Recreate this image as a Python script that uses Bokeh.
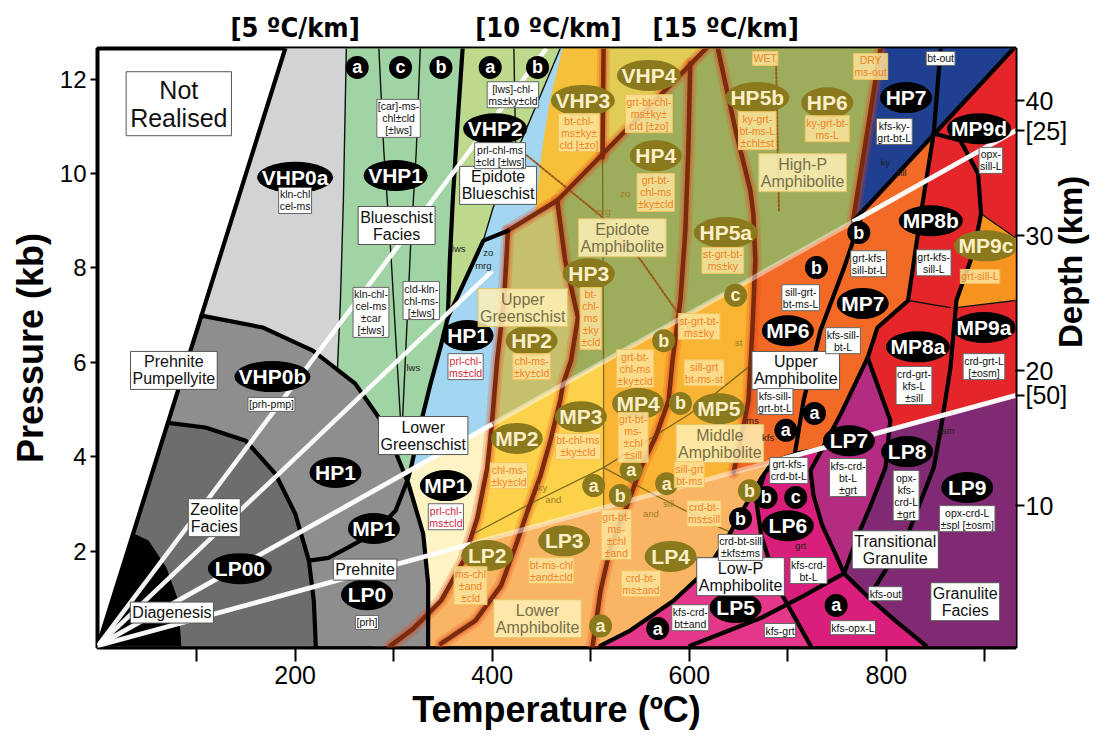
from bokeh.plotting import figure
from bokeh.models import Range1d, LinearAxis, FixedTicker, ColumnDataSource
from bokeh.embed import file_html
from bokeh.resources import INLINE
from bokeh.core.properties import value
import math

FONT = "Liberation Sans"
NARROW = "'Liberation Sans Narrow', 'DejaVu Sans Condensed', 'Liberation Sans', sans-serif"

# ---------------- axes ----------------
T_RANGE = (-0.5, 931)
P_RANGE = (-0.04, 12.65)
DEPTH_RANGE = (-0.49, 43.88)
T_TICKS = [100, 200, 300, 400, 500, 600, 700, 800, 900]
T_LABELED = [200, 400, 600, 800]
P_TICKS = [2, 4, 6, 8, 10, 12]
DEPTH_TICKS = [10, 20, 30, 40]
GEOTHERM_MARK_D = [37.8, 18.18]          # depth (km) where the 25 and 50 ºC/km lines meet the right border
GEOTHERM_MARKS = ["[25]", "[50]"]
GEO_LABEL_T = [200, 457, 637]
GEO_LABELS = ["[5 ºC/km]", "[10 ºC/km]", "[15 ºC/km]"]

# ---------------- region polygons (T in ºC, P in kb) ----------------
LIGHT_GRAY_T = [190, 252, 249, 246, 242, 292, 0]
LIGHT_GRAY_P = [12.65, 12.65, 9.43, 7.31, 5.51, 4.56, 0]
MINT_T = [252, 370, 365, 360, 357, 355, 348, 337, 329, 317, 300, 240, 246, 249]
MINT_P = [12.65, 12.65, 11.12, 9.43, 8.16, 6.95, 6.36, 5.51, 4.83, 3.71, 3.0, 5.0, 7.31, 9.43]
VHP2_T = [370, 469, 401, 391, 355, 357, 360, 365]
VHP2_P = [12.65, 12.65, 9.28, 8.58, 6.95, 8.16, 9.43, 11.12]
BLUE_T = [469, 472, 459, 451, 444, 416, 412, 405, 400, 317, 329, 337, 348, 355, 391, 401]
BLUE_P = [12.65, 12.65, 11.55, 10.49, 9.15, 8.79, 7.31, 6.04, 4.70, 3.71, 4.83, 5.51, 6.36, 6.95, 8.58, 9.28]
CREAM_T = [317, 400, 395, 385, 371, 348, 320, 290, 280, 300]
CREAM_P = [3.71, 4.70, 3.77, 2.71, 1.80, 0.95, 0.36, 0, 0, 3.0]
VHP3_T = [472, 513, 512, 466, 444, 451, 459]
VHP3_P = [12.65, 12.65, 10.34, 9.43, 9.15, 10.49, 11.55]
VHP4_T = [513, 617, 512]
VHP4_P = [12.65, 12.65, 10.34]
HP_T = [416, 466, 617, 794, 766, 400, 405, 412]
HP_P = [8.79, 9.43, 12.65, 12.65, 8.98, 4.70, 6.04, 7.31]
HP2_T = [416, 466, 474, 487, 480, 472, 400, 405, 412]
HP2_P = [8.79, 9.43, 8.16, 6.95, 6.04, 5.53, 4.69, 6.04, 7.31]
MP_YL_T = [400, 513, 513, 378, 385, 395]
MP_YL_P = [4.69, 6.01, 2.92, 2.15, 2.71, 3.77]
MP_GOLD_T = [513, 664, 664, 660, 652, 645, 513]
MP_GOLD_P = [6.01, 7.78, 6.67, 5.19, 4.34, 3.67, 2.92]
LP_OR_T = [378, 685, 673, 657, 637, 617, 584, 540, 510, 297, 320, 348, 371]
LP_OR_P = [2.15, 3.90, 3.54, 2.97, 2.22, 1.59, 0.95, 0.32, 0, 0, 0.36, 0.95, 1.80]
PINK_T = [685, 931, 931, 510, 540, 584, 617, 637, 657, 673]
PINK_P = [3.90, 5.30, 0, 0, 0.32, 0.95, 1.59, 2.22, 2.97, 3.54]
LP5_T = [676, 668, 673, 690, 723, 510, 540, 584, 617, 637, 657, 673]
LP5_P = [3.63, 3.07, 2.33, 1.23, 0, 0, 0.32, 0.95, 1.59, 2.22, 2.97, 3.54]
RED_TOP_T = [929, 931, 931, 766]
RED_TOP_P = [12.65, 12.65, 10.91, 8.98]
RED_LOW_T = [766, 931, 931, 735]
RED_LOW_P = [8.98, 10.91, 5.30, 4.18]
ORANGE_T = [664, 766, 848, 835, 828, 822, 791, 781, 754, 735, 645, 652, 660, 664]
ORANGE_P = [7.78, 8.98, 10.85, 9.15, 8.16, 7.31, 6.74, 6.10, 4.92, 4.17, 3.67, 4.34, 5.19, 6.67]
MP9C_T = [896, 931, 931, 871, 889]
MP9C_P = [9.15, 8.64, 7.31, 7.16, 8.37]
HP7_T = [794, 929, 766]
HP7_P = [12.65, 12.65, 8.98]
LP7_T = [781, 804, 799, 784, 771, 757, 749, 735, 726, 723, 735, 754]
LP7_P = [6.10, 4.77, 3.77, 2.97, 2.33, 1.53, 1.91, 2.54, 3.18, 3.71, 4.17, 4.92]
PURPLE_T = [804, 931, 931, 840, 809, 782, 757, 771, 784, 799]
PURPLE_P = [4.58, 5.30, 0, 0, 0.53, 1.02, 1.53, 2.33, 2.97, 3.77]
MID_GRAY_T = [0, 105, 167, 218, 261, 292, 315, 330, 335, 335]
MID_GRAY_P = [0, 6.99, 6.74, 6.25, 5.55, 4.62, 3.43, 2.37, 1.31, 0]
DARK_GRAY_T = [0, 71, 109, 150, 180, 200, 214, 219, 221]
DARK_GRAY_P = [0, 4.72, 4.62, 4.34, 3.64, 2.80, 1.80, 0.95, 0]
BLACK_T = [0, 35.6, 51, 69, 81, 84]
BLACK_P = [0, 2.37, 2.22, 1.65, 0.95, 0]

# ---------------- boundary lines ----------------
LINE_A_T, LINE_A_P = [0, 190], [0, 12.65]
ARC_MID_T = [105, 167, 218, 261, 292, 315, 330, 335, 335]
ARC_MID_P = [6.99, 6.74, 6.25, 5.55, 4.62, 3.43, 2.37, 1.31, 0]
ARC_DARK_T = [71, 109, 150, 180, 200, 214, 219, 221]
ARC_DARK_P = [4.72, 4.62, 4.34, 3.64, 2.80, 1.80, 0.95, 0]
V1_T, V1_P = [252, 249, 246, 243], [12.65, 9.43, 7.31, 5.85]
SEP1_T, SEP1_P = [285, 290, 297, 307], [12.65, 10.49, 8.37, 4.77]
SEP2_T, SEP2_P = [327, 323, 317, 309], [12.65, 10.49, 8.37, 4.77]
B1_T = [370, 365, 360, 357, 355, 348, 337, 329, 317, 314, 302, 279, 254, 234, 214]
B1_P = [12.65, 11.12, 9.43, 8.16, 6.95, 6.36, 5.51, 4.83, 3.71, 3.50, 2.86, 2.37, 2.08, 1.86, 1.80]
VHP_HP_BLACK_T, VHP_HP_BLACK_P = [355, 391, 416], [6.95, 8.58, 8.79]
VHP_HP_BROWN_T, VHP_HP_BROWN_P = [416, 466, 617], [8.79, 9.43, 12.65]
BLUE_EDGE_T, BLUE_EDGE_P = [391, 401, 469], [8.58, 9.28, 12.65]
VHP2_SEP_T, VHP2_SEP_P = [422, 424], [12.65, 10.34]
C1_T = [416, 412, 405, 400, 395, 385, 371, 348, 320, 297]
C1_P = [8.79, 7.31, 6.04, 4.77, 3.77, 2.71, 1.80, 0.95, 0.36, 0]
C2_T = [466, 474, 487, 480, 472, 469, 459, 449, 436, 424, 409, 383, 348]
C2_P = [9.43, 8.16, 6.95, 6.04, 5.55, 5.19, 4.34, 3.60, 2.86, 2.12, 1.27, 0.53, 0.04]
VHP34_T, VHP34_P = [513, 512], [12.65, 10.34]
C3_T, C3_P = [512, 513, 513], [10.34, 6.01, 2.92]
C4_T = [601, 599, 596, 591, 583, 579, 566, 551, 536, 520, 510, 502]
C4_P = [12.33, 10.49, 8.79, 7.31, 6.04, 5.19, 4.43, 3.77, 2.92, 2.08, 1.17, 0]
C5_T = [629, 647, 662, 665, 667, 664, 660, 652, 645]
C5_P = [12.65, 10.91, 9.64, 9.15, 8.16, 6.67, 5.19, 4.34, 3.67]
HP67_T, HP67_P = [794, 766], [12.65, 8.98]
K_TOP_T, K_TOP_P = [929, 766], [12.65, 8.98]
BT_OUT_T, BT_OUT_P = [855, 848], [12.65, 10.85]
K2_T = [848, 835, 828, 822, 791, 781, 754, 735, 723, 726, 735, 749, 757]
K2_P = [10.85, 9.15, 8.16, 7.31, 6.74, 6.10, 4.92, 4.17, 3.71, 3.18, 2.54, 1.91, 1.53]
K3_T = [848, 875, 893, 896, 889, 871, 865, 855, 848, 822, 782]
K3_P = [10.85, 10.70, 10.0, 9.15, 8.37, 7.31, 5.89, 4.56, 3.77, 2.37, 1.02]
LP78_T, LP78_P = [781, 804, 799, 784, 771, 757], [6.10, 4.77, 3.77, 2.97, 2.33, 1.53]
PURPLE_EDGE_T, PURPLE_EDGE_P = [757, 782, 809, 840], [1.53, 1.02, 0.53, 0]
PB_T = [510, 540, 584, 617, 637, 657, 673, 685, 713, 735]
PB_P = [0, 0.32, 0.95, 1.59, 2.22, 2.97, 3.54, 3.90, 4.09, 4.17]
LP56_T, LP56_P = [676, 668, 673, 690, 723], [3.63, 3.07, 2.33, 1.23, 0]
KFS_GRT_T, KFS_GRT_P = [757, 713, 673, 632, 601], [1.53, 1.02, 0.59, 0.25, 0]
MP67_T, MP67_P = [774, 757, 733, 716, 707], [9.05, 8.0, 6.67, 5.19, 4.05]
MP8_THIN_T, MP8_THIN_P = [822, 865], [7.31, 7.16]
MP9C_TOP_T, MP9C_TOP_P = [896, 931], [9.15, 8.64]
MP9C_BOT_T, MP9C_BOT_P = [871, 931], [7.16, 7.31]
ZO_MRG_T, ZO_MRG_P = [429, 510, 551, 601], [10.49, 9.11, 8.16, 6.67]
WET_T, WET_P = [688, 691], [12.39, 9.22]
KY_AND_T, KY_AND_P = [381, 439, 513], [2.37, 3.01, 3.77]
AND_SILL_T, AND_SILL_P = [513, 566, 620, 650], [3.77, 3.18, 2.60, 2.33]
KY_SILL_T, KY_SILL_P = [513, 600, 660], [3.77, 4.9, 5.9]

# geotherms from origin (25 and 50 ºC/km shown faintly across the whole field)
G25_T, G25_P = [0, 931], [0, 10.91]
G50_T, G50_P = [0, 931], [0, 5.30]
BRIGHT_SEG_T = [[0, 455], [0, 400], [0, 400], [766, 931], [0, 378], [685, 931]]
BRIGHT_SEG_P = [[0, 12.65], [0, 7.94], [0, 4.69], [8.98, 10.91], [0, 2.15], [3.90, 5.30]]

# ---------------- labels ----------------
BLACK_ELL_NAMES = ["VHP0a", "VHP1", "VHP0b", "HP1", "MP1", "LP00", "LP0", "VHP2", "HP1", "MP1",
                   "HP7", "MP9d", "MP8b", "MP7", "MP6", "MP8a", "MP9a", "LP7", "LP8", "LP9", "LP6", "LP5"]
BLACK_ELL_T = [200, 302, 177, 241, 280, 144, 273, 403, 375, 353, 820, 894, 845, 776, 700, 832, 899, 762, 821, 882, 700, 647]
BLACK_ELL_P = [9.92, 9.96, 5.70, 3.67, 2.48, 1.63, 1.08, 10.95, 6.57, 3.39, 11.61, 10.95, 9.0, 7.25, 6.67, 6.33, 6.74,
               4.34, 4.11, 3.35, 2.54, 0.81]
OLIVE_ELL_NAMES = ["VHP3", "VHP4", "HP4", "HP3", "HP2", "HP5a", "HP5b", "HP6", "MP2", "MP3", "MP4", "MP5",
                   "LP2", "LP3", "LP4", "MP9c"]
OLIVE_ELL_T = [492, 559, 566, 498, 440, 637, 669, 740, 425, 490, 548, 630, 395, 473, 581, 901]
OLIVE_ELL_P = [11.55, 12.08, 10.38, 7.88, 6.46, 8.75, 11.61, 11.50, 4.39, 4.85, 5.13, 5.02, 1.91, 2.22, 1.89, 8.47]
BLACK_DOT_LETTERS = ["a", "c", "b", "a", "b", "b", "b", "a", "a", "b", "c", "b", "a", "a"]
BLACK_DOT_T = [263, 307, 348, 398, 446, 772, 729, 727, 698, 678, 708, 652, 568, 749]
BLACK_DOT_P = [12.25, 12.25, 12.25, 12.25, 12.25, 8.75, 8.01, 4.92, 4.56, 3.14, 3.14, 2.69, 0.36, 0.85]
OLIVE_DOT_LETTERS = ["b", "c", "b", "a", "a", "a", "b", "b", "a"]
OLIVE_DOT_T = [574, 647, 591, 541, 577, 503, 530, 661, 510]
OLIVE_DOT_P = [6.46, 7.42, 5.13, 3.72, 3.43, 3.39, 3.18, 3.28, 0.42]

FACIES_TEXT = ["Blueschist\nFacies", "Prehnite\nPumpellyite", "Zeolite\nFacies", "Diagenesis", "Prehnite",
               "Lower\nGreenschist", "Epidote\nBlueschist", "Upper\nAmphibolite", "Transitional\nGranulite",
               "Granulite\nFacies", "Low-P\nAmphibolite"]
FACIES_T = [303, 77, 118, 75, 271, 330, 406, 708, 809, 880, 652]
FACIES_P = [8.90, 5.83, 2.71, 0.70, 1.61, 4.45, 9.75, 5.83, 2.03, 0.93, 1.46]
YFACIES_TEXT = ["Upper\nGreenschist", "Epidote\nAmphibolite", "High-P\nAmphibolite", "Middle\nAmphibolite",
                "Lower\nAmphibolite"]
YFACIES_T = [431, 532, 715, 631, 446]
YFACIES_P = [7.16, 8.64, 10.02, 4.28, 0.57]
MIN_TEXT = ["kln-chl\ncel-ms", "[car]-ms-\nchl±cld\n[±lws]", "kln-chl-\ncel-ms\n±car\n[±lws]",
            "cld-kln-\nchl-ms-\n[±lws]", "[prh-pmp]", "[prh]", "[lws]-chl-\nms±ky±cld", "prl-chl-ms\n±cld [±lws]",
            "kfs-ky-\ngrt-bt-L", "opx-\nsill-L", "grt-kfs-\nsill-bt-L", "grt-kfs-\nsill-L", "sill-grt-\nbt-ms-L",
            "kfs-sill-\nbt-L", "crd-grt-\nkfs-L\n±sill", "crd-grt-L\n[±osm]", "kfs-sill-\ngrt-bt-L",
            "grt-kfs-\ncrd-bt-L", "kfs-crd-\nbt-L\n±grt", "opx-\nkfs-\ncrd-L\n±grt", "opx-crd-L\n±spl [±osm]",
            "crd-bt-sill\n±kfs±ms", "kfs-crd-\nbt-L", "kfs-crd-\nbt±and", "kfs-out", "kfs-opx-L", "kfs-grt",
            "bt-out"]
MIN_T = [200, 305, 277, 328, 176, 273, 421, 408, 808, 906, 782, 848, 713, 756, 828, 899, 687, 701, 761, 820, 882,
         652, 721, 601, 799, 766, 692, 855]
MIN_P = [9.43, 11.17, 7.06, 7.31, 5.11, 0.49, 11.67, 10.38, 10.89, 10.28, 8.09, 8.11, 7.37, 6.46, 5.51, 5.91, 5.17,
         3.71, 3.56, 3.18, 2.69, 2.08, 1.59, 0.59, 1.10, 0.38, 0.32, 12.44]
RED_MIN_TEXT = ["prl-chl-\nms±cld", "prl-chl-\nms±cld"]
RED_MIN_T = [373, 353]
RED_MIN_P = [5.91, 2.73]
OR_MIN_TEXT = ["bt-chl-\nms±ky±\ncld [±zo]", "grt-bt-chl-\nms±ky±\ncld [±zo]", "grt-bt-\nchl-ms\n±ky±cld",
               "bt-\nchl-\nms\n±ky\n±cld", "chl-ms-\n±ky±cld", "st-grt-bt-\nms±ky", "ky-grt-\nbt-ms-L\n±chl±st",
               "ky-grt-bt-\nms-L", "st-grt-bt-\nms±ky", "sill-grt\nbt-ms-st", "grt-bt-\nchl-ms\n±ky±cld",
               "bt-chl-ms\n±ky±cld", "chl-ms-\n±ky±cld", "grt-bt-\nms-\n±chl\n±sill", "sill-grt\nbt-ms",
               "crd-bt-\nms±sill", "grt-bt-\nms-\n±chl\n±and", "ms-chl\n±and\n±cld", "bt-ms-chl\n±and±cld",
               "crd-bt-\nms±and", "grt-sill-L", "WET", "DRY\nms-out"]
OR_MIN_T = [488, 559, 566, 500, 440, 634, 669, 740, 610, 615, 545, 487, 417, 543, 600, 615, 526, 378, 460, 551,
            895, 677, 784]
OR_MIN_P = [10.87, 11.27, 9.60, 6.93, 5.91, 8.16, 10.91, 10.95, 6.76, 5.78, 5.87, 4.22, 3.60, 4.41, 3.62, 2.80, 2.35,
            1.27, 1.59, 1.31, 7.82, 12.44, 12.27]
SMALL_TEXT = ["lws", "lws", "zo", "mrg", "ky", "sill", "osm", "grt", "ms", "kfs"]
SMALL_T = [320, 366, 396, 391, 799, 815, 860, 713, 664, 680]
SMALL_P = [5.89, 8.41, 8.33, 8.05, 10.24, 10.02, 4.56, 2.12, 4.77, 4.41]
SMALL_OL_TEXT = ["zo", "mrg", "ky", "and", "and", "sill", "st"]
SMALL_OL_T = [535, 512, 451, 462, 561, 579, 650]
SMALL_OL_P = [9.58, 9.19, 3.35, 3.09, 2.80, 3.01, 6.42]

# ---------------- figure ----------------
p = figure(frame_width=918, frame_height=599, x_range=Range1d(*T_RANGE), y_range=Range1d(*P_RANGE),
           output_backend="svg", toolbar_location=None, min_border_left=97, min_border_right=60,
           min_border_top=48, min_border_bottom=78, background_fill_color="white", border_fill_color="white")
p.grid.visible = False
p.outline_line_color = "black"
p.outline_line_width = 4
p.extra_y_ranges = {"depth": Range1d(*DEPTH_RANGE)}


def style_axis(ax, label_size, tick_out):
    ax.major_label_text_font = FONT
    ax.major_label_text_font_size = label_size
    ax.major_label_text_color = "black"
    ax.axis_label_text_font = FONT
    ax.axis_label_text_font_style = "bold"
    ax.axis_label_text_color = "black"
    ax.major_tick_out = tick_out
    ax.major_tick_in = 0
    ax.major_tick_line_width = 2
    ax.major_tick_line_color = "black"
    ax.minor_tick_line_color = None
    ax.axis_line_color = None


xa = p.below[0]
style_axis(xa, "25px", 14)
xa.ticker = FixedTicker(ticks=T_TICKS)
xa.major_label_overrides = {t: (str(t) if t in T_LABELED else "") for t in T_TICKS}
xa.axis_label = "Temperature (ºC)"
xa.axis_label_text_font_size = "36px"
xa.axis_label_standoff = 2
xa.major_label_standoff = 4

ya = p.left[0]
style_axis(ya, "24px", 7)
ya.ticker = FixedTicker(ticks=P_TICKS)
ya.axis_label = "Pressure (kb)"
ya.axis_label_text_font_size = "36px"
ya.axis_label_standoff = 6
ya.major_label_standoff = 4

ra = LinearAxis(y_range_name="depth", ticker=FixedTicker(ticks=sorted(DEPTH_TICKS + GEOTHERM_MARK_D)),
                major_label_overrides=dict(zip(GEOTHERM_MARK_D, GEOTHERM_MARKS)))
style_axis(ra, "25px", 9)
ra.major_label_standoff = 1
ra.axis_label = "Depth (km)"
ra.axis_label_text_font_size = "33px"
ra.axis_label_standoff = 0
try:
    ra.axis_label_orientation = math.pi / 2
except Exception:
    pass
p.add_layout(ra, "right")

ta = LinearAxis(ticker=FixedTicker(ticks=GEO_LABEL_T),
                major_label_overrides=dict(zip(GEO_LABEL_T, GEO_LABELS)))
style_axis(ta, "27px", 0)
ta.major_label_text_font = NARROW
ta.major_label_text_font_style = "bold"
ta.major_label_standoff = 6
ta.major_tick_line_color = None
p.add_layout(ta, "above")

# ---------------- regions ----------------
regions = [
    (LIGHT_GRAY_T, LIGHT_GRAY_P, "#d1d3d4"), (MINT_T, MINT_P, "#a1d4a4"), (VHP2_T, VHP2_P, "#bdd98c"),
    (BLUE_T, BLUE_P, "#a3d7f1"), (CREAM_T, CREAM_P, "#fdf3c4"), (VHP3_T, VHP3_P, "#f6c03a"),
    (VHP4_T, VHP4_P, "#e1cd55"), (HP_T, HP_P, "#9dad5b"), (HP2_T, HP2_P, "#c6c06c"),
    (MP_YL_T, MP_YL_P, "#fdd24b"), (MP_GOLD_T, MP_GOLD_P, "#fab434"), (LP_OR_T, LP_OR_P, "#f9b563"),
    (PINK_T, PINK_P, "#d91f7b"), (LP5_T, LP5_P, "#e4378a"), (RED_TOP_T, RED_TOP_P, "#e42529"),
    (RED_LOW_T, RED_LOW_P, "#e42529"), (ORANGE_T, ORANGE_P, "#f26a25"), (MP9C_T, MP9C_P, "#f7941f"),
    (HP7_T, HP7_P, "#1f3f91"), (LP7_T, LP7_P, "#b42c82"), (PURPLE_T, PURPLE_P, "#7f2a72"),
    (MID_GRAY_T, MID_GRAY_P, "#8e8e8e"), (DARK_GRAY_T, DARK_GRAY_P, "#6d6d6d"), (BLACK_T, BLACK_P, "#000000"),
]
for xs, ys, c in regions:
    p.patch(xs, ys, fill_color=c, line_color=c, line_width=1)


def lines(group, color, width, alpha=1.0, dash="solid"):
    p.multi_line([g[0] for g in group], [g[1] for g in group], line_color=color, line_width=width,
                 line_alpha=alpha, line_dash=dash, line_join="round", line_cap="round")


brown = [(C1_T, C1_P), (C2_T, C2_P), (C4_T, C4_P), (C5_T, C5_P), (VHP_HP_BROWN_T, VHP_HP_BROWN_P),
         (VHP34_T, VHP34_P), (HP67_T, HP67_P)]
lines(brown, "#e8401c", 13, 0.22)
lines(brown, "#d9481a", 8, 0.35)

thin_olive = [(C3_T, C3_P), (KY_AND_T, KY_AND_P), (AND_SILL_T, AND_SILL_P), (KY_SILL_T, KY_SILL_P)]
lines(thin_olive, "#7d6a1c", 1.3)
lines([(ZO_MRG_T, ZO_MRG_P), (WET_T, WET_P)], "#9a5a1a", 2, 1.0, "2 2")
lines(brown, "#7a2a0d", 4.5)

thin_black = [(V1_T, V1_P), (SEP1_T, SEP1_P), (SEP2_T, SEP2_P), (BLUE_EDGE_T, BLUE_EDGE_P),
              (VHP2_SEP_T, VHP2_SEP_P), (MP8_THIN_T, MP8_THIN_P), (MP9C_TOP_T, MP9C_TOP_P),
              (MP9C_BOT_T, MP9C_BOT_P)]
lines(thin_black, "#111111", 1.4)
thick_black = [(LINE_A_T, LINE_A_P), (ARC_MID_T, ARC_MID_P), (ARC_DARK_T, ARC_DARK_P), (B1_T, B1_P),
               (VHP_HP_BLACK_T, VHP_HP_BLACK_P), (K_TOP_T, K_TOP_P), (BT_OUT_T, BT_OUT_P), (K2_T, K2_P),
               (K3_T, K3_P), (LP78_T, LP78_P), (PURPLE_EDGE_T, PURPLE_EDGE_P), (PB_T, PB_P),
               (LP56_T, LP56_P), (KFS_GRT_T, KFS_GRT_P), (MP67_T, MP67_P)]
lines(thick_black, "#000000", 4.2)

# geotherms
lines([(G25_T, G25_P), (G50_T, G50_P)], "#ffffff", 5, 0.45)
p.multi_line(BRIGHT_SEG_T, BRIGHT_SEG_P, line_color="#ffffff", line_width=4.5, line_alpha=0.95)

# ---------------- labels ----------------
F = value(FONT)


def ellipses(names, ts, ps, fill, tcolor):
    w = [12 * len(n) + 16 for n in names]
    src = ColumnDataSource(dict(x=ts, y=ps, t=names, w=w))
    p.ellipse(x="x", y="y", width="w", height=31, width_units="screen", height_units="screen",
              source=src, fill_color=fill, line_color=None)
    p.text(x="x", y="y", text="t", source=src, text_align="center", text_baseline="middle",
           text_font=F, text_font_style="bold", text_font_size="21px", text_color=tcolor)


ellipses(BLACK_ELL_NAMES, BLACK_ELL_T, BLACK_ELL_P, "#000000", "#ffffff")
ellipses(OLIVE_ELL_NAMES, OLIVE_ELL_T, OLIVE_ELL_P, "#8a7a1d", "#fcefc8")


def dots(letters, ts, ps, fill, tcolor):
    src = ColumnDataSource(dict(x=ts, y=ps, t=letters))
    p.scatter(x="x", y="y", source=src, size=23, marker="circle", fill_color=fill, line_color=None)
    p.text(x="x", y="y", text="t", source=src, text_align="center", text_baseline="middle",
           text_font=F, text_font_style="bold", text_font_size="18px", text_color=tcolor)


dots(BLACK_DOT_LETTERS, BLACK_DOT_T, BLACK_DOT_P, "#000000", "#ffffff")
dots(OLIVE_DOT_LETTERS, OLIVE_DOT_T, OLIVE_DOT_P, "#8a7a1d", "#fcefc8")


def boxes(texts, ts, ps, size, color, fill, fill_alpha, border, pad=2):
    src = ColumnDataSource(dict(x=ts, y=ps, t=texts))
    p.text(x="x", y="y", text="t", source=src, text_align="center", text_baseline="middle",
           text_font=F, text_font_size=size, text_color=color, text_line_height=1.0,
           background_fill_color=fill, background_fill_alpha=fill_alpha,
           border_line_color=border, border_line_width=1, padding=pad)


boxes(["Not\nRealised"], [82], [11.48], "25px", "#111111", "white", 1.0, "#555555", 4)
boxes(FACIES_TEXT, FACIES_T, FACIES_P, "16px", "#111111", "white", 1.0, "#555555", 2)
boxes(YFACIES_TEXT, YFACIES_T, YFACIES_P, "16px", "#76704a", "#fff0b5", 0.85, "#e3c46a", 2)
boxes(MIN_TEXT, MIN_T, MIN_P, "10.5px", "#111111", "white", 1.0, "#666666", 1)
boxes(RED_MIN_TEXT, RED_MIN_T, RED_MIN_P, "10.5px", "#d7263d", "white", 1.0, "#666666", 1)
boxes(OR_MIN_TEXT, OR_MIN_T, OR_MIN_P, "10.5px", "#ef8326", "#fde49c", 0.85, "#f2c45e", 1)

src = ColumnDataSource(dict(x=SMALL_T, y=SMALL_P, t=SMALL_TEXT))
p.text(x="x", y="y", text="t", source=src, text_align="center", text_baseline="middle",
       text_font=F, text_font_size="9.5px", text_color="#222222")
src = ColumnDataSource(dict(x=SMALL_OL_T, y=SMALL_OL_P, t=SMALL_OL_TEXT))
p.text(x="x", y="y", text="t", source=src, text_align="center", text_baseline="middle",
       text_font=F, text_font_size="9.5px", text_color="#a07a24")

open("out.html", "w").write(file_html(p, INLINE))
